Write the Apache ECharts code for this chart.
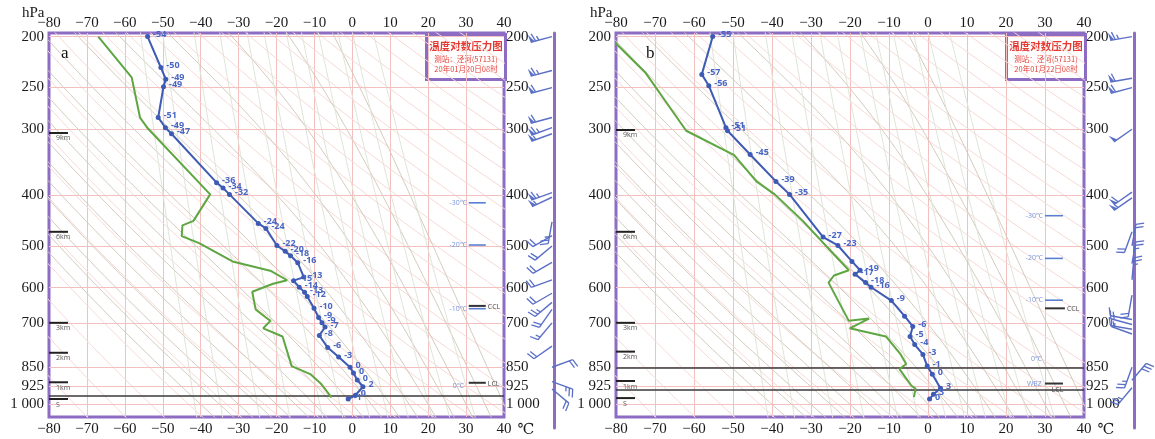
<!DOCTYPE html>
<html><head><meta charset="utf-8">
<script src="https://cdn.jsdelivr.net/npm/echarts@6/dist/echarts.min.js"></script>
<style>html,body{margin:0;padding:0;background:#fff}#c{width:1155px;height:439px}</style>
</head><body><div id="c"></div>
<script>
// ---------- tick labels ----------
const PRESS_TICKS = [200, 250, 300, 400, 500, 600, 700, 850, 925, 1000];

// ---------- panel a : temperature profile ----------
const A_T   = [-54, -50.5, -49.2, -49.8, -51.2, -49.3, -47.7, -35.8, -34.1, -32.4, -24.8, -22.8, -19.9, -17.7, -16.3, -14.4, -12.8, -15.5, -14.0, -12.6, -11.9, -10.1, -8.9, -8.0, -7.2, -8.7, -6.5, -3.6, -0.6, 0.3, 1.3, 2.8, 0.8, -1.1];
const A_TP  = [200, 229, 241, 249, 285, 298, 306, 379, 388, 399, 453, 463, 499, 512, 522, 538, 573, 582, 599, 612, 624, 657, 684, 700, 713, 740, 780, 813, 850, 872, 899, 926, 961, 977];
const A_LBL = ['-54','-50','-49','-49','-51','-49','-47','-36','-34','-32','-24','-24','-22','-20','-18','-16','-13','-15','-14','-13','-12','-10','-9','-9','-7','-8','-6','-3','0','0','0','2','0','-1'];
// panel a : dew point
const A_TD  = [-67, -58.2, -56, -54.1, -37.5, -41.9, -44.8, -45, -40.4, -31.6, -21.4, -17.2, -20.9, -26.4, -25.5, -22.8, -21.6, -23.5, -18.4, -16, -11.1, -8.2, -5.5];
const A_TDP = [200, 239, 285, 298, 399, 448, 457, 479, 494, 535, 558, 581, 590, 611, 660, 684, 694, 717, 743, 846, 876, 915, 970];
// panel a : winds (hPa, direction deg, speed m/s)
const A_WP  = [200, 232, 250, 285, 298, 306, 396, 404, 450, 478, 500, 537, 580, 615, 640, 660, 700, 775, 850, 905, 935];
const A_WD  = [255, 255, 255, 255, 250, 250, 250, 245, 190, 240, 230, 240, 250, 240, 230, 215, 220, 235, 70, 110, 130];
const A_WS  = [26, 26, 24, 24, 26, 22, 26, 22, 10, 8, 8, 8, 8, 8, 10, 8, 6, 8, 8, 10, 8];
// panel a : height marks
const A_HP  = [305, 470, 700, 798, 908, 977];
const A_HT  = ['9km', '6km', '3km', '2km', '1km', 'S'];
// panel a : level marks
const A_LP  = [414, 498, 658, 650, 910, 923];
const A_LT0 = [30.7, 30.7, 30.7, 30.7, 30.7, 29.4];
const A_LT1 = [35.2, 35.2, 35.2, 35.2, 35.2, 29.4];
const A_LTX = ['-30℃', '-20℃', '-10℃', 'CCL', 'LCL', '0℃'];
const A_LK  = ['blue', 'blue', 'blue', 'black', 'black', 'text'];
const A_BLACK = [962];

// ---------- panel b ----------
const B_T   = [-55.2, -58, -56.2, -51.8, -51.4, -45.6, -39, -35.5, -26.9, -23.1, -19.5, -17.4, -18.7, -16, -14.6, -9.4, -6.0, -3.9, -4.6, -3.4, -1.3, -0.2, 1.1, 3.2, 1.4, 0.4];
const B_TP  = [200, 236, 248, 298, 302, 335, 377, 399, 481, 499, 535, 556, 566, 587, 599, 635, 680, 711, 743, 770, 804, 846, 877, 932, 957, 977];
const B_LBL = ['-55','-57','-56','-51','-51','-45','-39','-35','-27','-23','','-19','-17','-18','-16','-9','','-6','-5','-4','-3','-1','0','3','3','0'];
const B_TD  = [-81.8, -72.5, -62, -49.7, -44, -39.3, -32.1, -24.1, -20.3, -24.1, -25.5, -20.3, -15.1, -20.1, -10.8, -7, -5.6, -7.3, -4.3, -3.2, -3.6];
const B_TDP = [200, 234, 302, 336, 377, 399, 448, 519, 556, 569, 587, 694, 687, 717, 743, 804, 838, 857, 921, 933, 969];
const B_WP  = [200, 240, 250, 300, 395, 405, 470, 500, 540, 580, 620, 690, 705, 720, 735, 850, 900, 930];
const B_WD  = [260, 260, 255, 235, 235, 235, 200, 10, 10, 5, 190, 280, 285, 280, 290, 200, 40, 220];
const B_WS  = [26, 24, 24, 20, 24, 22, 8, 8, 10, 10, 8, 6, 6, 6, 6, 10, 12, 10];
const B_HP  = [301, 470, 700, 794, 903, 973];
const B_HT  = ['9km', '6km', '3km', '2km', '1km', 'S'];
const B_LP  = [438, 528, 634, 657, 913, 820, 913];
const B_LT0 = [30, 30, 30, 30, 30, 29.2, 29.2];
const B_LT1 = [34.6, 34.6, 34.6, 35.1, 34.6, 29.2, 29.2];
const B_LTX = ['-30℃', '-20℃', '-10℃', 'CCL', 'LCL', '0℃', 'WBZ'];
const B_LK  = ['blue', 'blue', 'blue', 'black', 'blackBelow', 'text', 'text'];
const B_BLACK = [851, 938];

// ---------- diagram background families ----------
const DRY_THETA = [200,210,220,230,240,250,260,270,280,290,300,310,320,330,340,350,360,370,380,390,400,410,420,430,440,450,460,470,480];
const MOIST_T0  = [-40,-35,-30,-25,-20,-15,-10,-5,0,5,10,15,20,25,30,35,40];
const MIX_W     = [0.1,0.2,0.5,1,2,3,5,7,10,15,20,30];

const SERIF = "'Liberation Serif','DejaVu Serif',serif";
const FRAME = '#8d6cc3';
const BLUE = '#3d5bb5', GREEN = '#5ea641';
const PMIN = 196.9, PMAX = 1057, PMAXW = 1109;

const PS = []; for (let lp = Math.log(1065); lp >= Math.log(194); lp -= 0.02) PS.push(Math.exp(lp));
function es(tc){ return 6.112*Math.exp(17.67*tc/(tc+243.5)); }
function dTdlnp(Tk, p){ const e = es(Tk-273.15); const rs = 0.622*e/Math.max(p-e,1); return (287.04*Tk + 2.501e6*rs)/(1005.7 + 2.501e6*2.501e6*rs*0.622/(287.04*Tk*Tk)); }
function moist(t0){
  const up=[], dn=[];
  let T=t0+273.15, lp=Math.log(1000);
  while (lp > Math.log(194)) { up.push([T-273.15, Math.exp(lp)]); const h=-0.01; const k1=dTdlnp(T,Math.exp(lp)); const k2=dTdlnp(T+h*k1,Math.exp(lp+h)); T+=h*(k1+k2)/2; lp+=h; }
  T=t0+273.15; lp=Math.log(1000);
  while (lp < Math.log(1065)) { const h=0.01; const k1=dTdlnp(T,Math.exp(lp)); const k2=dTdlnp(T+h*k1,Math.exp(lp+h)); T+=h*(k1+k2)/2; lp+=h; dn.push([T-273.15, Math.exp(lp)]); }
  return dn.reverse().concat(up);
}
function mixLine(w){ const r=w/1000; return PS.map(p=>{ const e=r*p/(0.622+r); const l=Math.log(e/6.112); return [243.5*l/(17.67-l), p]; }); }

function plain(xi, yi, data, color, width, type, z){
  return {type:'line', xAxisIndex:xi, yAxisIndex:yi, data, showSymbol:false, silent:true, animation:false,
    lineStyle:{color, width, type:type||'solid'}, z:z||1, clip:true};
}
function background(xi, yi){
  const out=[];
  DRY_THETA.forEach(th=>out.push(plain(xi, yi, PS.map(p=>[th*Math.pow(p/1000,0.2857)-273.15, p]), '#f6d9d5', 1)));
  MOIST_T0.forEach(t=>out.push(plain(xi, yi, moist(t), '#d2c9ba', 1)));
  MIX_W.forEach(w=>out.push(plain(xi, yi, mixLine(w), '#dfe4d8', 1)));
  // isobars
  out.push({type:'line', xAxisIndex:xi, yAxisIndex:yi, data:[], silent:true, z:2,
    markLine:{silent:true, symbol:'none', animation:false, label:{show:false},
      lineStyle:{color:'#f3c0c0', width:1, type:'solid'}, data:PRESS_TICKS.map(p=>({yAxis:p}))}});
  return out;
}
function profile(xi, yi, T, P, L, color){
  return {type:'line', xAxisIndex:xi, yAxisIndex:yi, data:T.map((t,i)=>[t,P[i]]), z:10, animation:false,
    symbol:'circle', symbolSize:5, showAllSymbol:true, itemStyle:{color}, lineStyle:{color, width:2},
    label:{show:true, position:'right', distance:3, offset:[0,-2], color:'#4a66c4', fontSize:9, fontWeight:'bold',
      fontFamily:"'Open Sans',sans-serif", formatter:p=>L[p.dataIndex]}};
}
function dew(xi, yi, T, P){
  return {type:'line', xAxisIndex:xi, yAxisIndex:yi, data:T.map((t,i)=>[t,P[i]]), z:9, animation:false,
    showSymbol:false, lineStyle:{color:GREEN, width:2}};
}
function blackLines(xi, yi, arr){
  return {type:'line', xAxisIndex:xi, yAxisIndex:yi, data:[], z:8,
    markLine:{silent:true, symbol:'none', animation:false, label:{show:false},
      lineStyle:{color:'#3a3a3a', width:1.6, type:'solid'}, data:arr.map(p=>({yAxis:p}))}};
}
function heights(xi, yi, P, TX){
  return {type:'custom', xAxisIndex:xi, yAxisIndex:yi, z:12, silent:true, animation:false,
    data:P.map(p=>[-80,p]),
    renderItem:(params, api)=>{
      const c = api.coord([api.value(0), api.value(1)]);
      return {type:'group', children:[
        {type:'line', shape:{x1:c[0], y1:c[1], x2:c[0]+19, y2:c[1]}, style:{stroke:'#222', lineWidth:2}},
        {type:'text', x:c[0]+7, y:c[1]+2, style:{text:TX[params.dataIndex], fontSize:7, fill:'#555', fontFamily:"'Open Sans',sans-serif"}}
      ]};
    }};
}
function levels(xi, yi, P, T0, T1, TX, K){
  return {type:'custom', xAxisIndex:xi, yAxisIndex:yi, z:12, silent:true, animation:false,
    data:P.map((p,i)=>[T0[i], p, T1[i]]),
    renderItem:(params, api)=>{
      const i = params.dataIndex, k = K[i];
      const a = api.coord([api.value(0), api.value(1)]), b = api.coord([api.value(2), api.value(1)]);
      const ch = [];
      const fam = "'Open Sans',sans-serif";
      if (k==='blue'){
        ch.push({type:'line', shape:{x1:a[0],y1:a[1],x2:b[0],y2:b[1]}, style:{stroke:'#5b7fd0', lineWidth:1.6}});
        ch.push({type:'text', x:a[0]-2, y:a[1], style:{text:TX[i], fontSize:7, fill:'#7a95d8', align:'right', verticalAlign:'middle', fontFamily:fam}});
      } else if (k==='black'){
        ch.push({type:'line', shape:{x1:a[0],y1:a[1],x2:b[0],y2:b[1]}, style:{stroke:'#333', lineWidth:2}});
        ch.push({type:'text', x:b[0]+2, y:a[1]+1, style:{text:TX[i], fontSize:7, fill:'#444', align:'left', verticalAlign:'middle', fontFamily:fam}});
      } else if (k==='blackBelow'){
        ch.push({type:'line', shape:{x1:a[0],y1:a[1],x2:b[0],y2:b[1]}, style:{stroke:'#333', lineWidth:2}});
        ch.push({type:'text', x:a[0]+(b[0]-a[0])*0.7, y:a[1]+6, style:{text:TX[i], fontSize:7, fill:'#444', align:'center', verticalAlign:'middle', fontFamily:fam}});
      } else {
        ch.push({type:'text', x:a[0], y:a[1], style:{text:TX[i], fontSize:7, fill:'#7a95d8', align:'right', verticalAlign:'middle', fontFamily:fam}});
      }
      return {type:'group', children:ch};
    }};
}
function winds(xi, yi, P, D, S){
  return {type:'custom', xAxisIndex:xi, yAxisIndex:yi, z:12, silent:true, animation:false, clip:false,
    data:P.map((p,i)=>[0.96, p, D[i], S[i]]),
    renderItem:(params, api)=>{
      const base = api.coord([api.value(0), api.value(1)]);
      const d = api.value(2)*Math.PI/180; let rem = api.value(3);
      const ux = Math.sin(d), uy = -Math.cos(d), vx = -uy, vy = ux;
      const L = 22, col = '#5a6fc6';
      const tip = [base[0]+L*ux, base[1]+L*uy];
      const ch = [{type:'line', shape:{x1:base[0],y1:base[1],x2:tip[0],y2:tip[1]}, style:{stroke:col, lineWidth:1.4}}];
      let pos = 0;
      while (rem >= 20){
        const p0=[tip[0]-pos*ux, tip[1]-pos*uy], p1=[p0[0]-4*ux, p0[1]-4*uy], ap=[p0[0]+8*vx+1*ux, p0[1]+8*vy+1*uy];
        ch.push({type:'polygon', shape:{points:[p0,ap,p1]}, style:{fill:col}});
        pos += 5; rem -= 20;
      }
      while (rem >= 4){
        const p0=[tip[0]-pos*ux, tip[1]-pos*uy];
        ch.push({type:'line', shape:{x1:p0[0],y1:p0[1],x2:p0[0]+8*vx+2.5*ux,y2:p0[1]+8*vy+2.5*uy}, style:{stroke:col, lineWidth:1.3}});
        pos += 3.5; rem -= 4;
      }
      if (rem >= 2){
        const p0=[tip[0]-pos*ux, tip[1]-pos*uy];
        ch.push({type:'line', shape:{x1:p0[0],y1:p0[1],x2:p0[0]+4.5*vx+1.4*ux,y2:p0[1]+4.5*vy+1.4*uy}, style:{stroke:col, lineWidth:1.3}});
      }
      return {type:'group', children:ch};
    }};
}

const fmtT = v => v < 0 ? '\u2212' + (-v) : String(v);
const fmtP = v => { const r = Math.round(v); return r === 1000 ? '1 000' : String(r); };
function xAx(g, pos){
  const o = {type:'value', gridIndex:g, position:pos, min:-80, max:40, interval:10,
    axisLine:{show:false}, axisTick:{show:false},
    splitLine:{show:pos==='bottom', showMinLine:false, showMaxLine:false, lineStyle:{color:'#f3c0c0', width:1}},
    axisLabel:{margin:pos==='top'?2:5, fontFamily:SERIF, fontSize:15, color:'#1a1a1a', formatter:fmtT}};
  if (pos==='bottom'){ o.name='℃'; o.nameLocation='end'; o.nameGap=10;
    o.nameTextStyle={fontFamily:SERIF, fontSize:15, color:'#1a1a1a', align:'left', verticalAlign:'top', padding:[6,0,0,0]}; }
  return o;
}
function xHidden(g){ return {type:'value', gridIndex:g, min:0, max:1, show:false}; }
function yAx(g, pos){
  return {type:'log', gridIndex:g, position:pos, inverse:true, min:PMIN, max:PMAX, logBase:10,
    axisLine:{show:false}, axisTick:{show:false}, splitLine:{show:false},
    axisLabel:{customValues:PRESS_TICKS, formatter:fmtP, fontFamily:SERIF, fontSize:15, color:'#1a1a1a', margin:pos==='left'?5:2}};
}
function yWind(g){
  return {type:'log', gridIndex:g, position:'right', inverse:true, min:PMIN, max:PMAXW, logBase:10,
    axisLine:{show:true, onZero:false, lineStyle:{color:FRAME, width:3}}, axisTick:{show:false}, axisLabel:{show:false}, splitLine:{show:false}};
}

const grids = [
  {left:49, top:33, width:455, height:384, show:true, borderColor:FRAME, borderWidth:3, backgroundColor:'#fff'},
  {left:504, top:33, width:50, height:395, show:false},
  {left:616, top:33, width:468, height:384, show:true, borderColor:FRAME, borderWidth:3, backgroundColor:'#fff'},
  {left:1084, top:33, width:50, height:395, show:false}
];

const series = [].concat(
  background(0,0), background(3,3),
  [blackLines(0,0,A_BLACK), blackLines(3,3,B_BLACK),
   dew(0,0,A_TD,A_TDP), dew(3,3,B_TD,B_TDP),
   profile(0,0,A_T,A_TP,A_LBL,BLUE), profile(3,3,B_T,B_TP,B_LBL,BLUE),
   heights(0,0,A_HP,A_HT), heights(3,3,B_HP,B_HT),
   levels(0,0,A_LP,A_LT0,A_LT1,A_LTX,A_LK), levels(3,3,B_LP,B_LT0,B_LT1,B_LTX,B_LK),
   winds(2,2,A_WP,A_WD,A_WS), winds(5,5,B_WP,B_WD,B_WS)]
);

function box(x, date){
  return {type:'group', left:x, top:33, z:100, children:[
    {type:'rect', shape:{x:0, y:0, width:79, height:45}, style:{fill:'#fff', stroke:FRAME, lineWidth:3}},
    {type:'text', x:39.5, y:6, style:{text:'温度对数压力图', fontSize:10.5, fontWeight:'bold', fill:'#e53a33', align:'center', fontFamily:"'Noto Sans CJK SC',sans-serif"}},
    {type:'text', x:39.5, y:21, style:{text:'测站：泾河(57131)', fontSize:7.5, fill:'#e53a33', align:'center', fontFamily:"'Noto Sans CJK SC',sans-serif"}},
    {type:'text', x:39.5, y:31, style:{text:date, fontSize:7.5, fill:'#e53a33', align:'center', fontFamily:"'Noto Sans CJK SC',sans-serif"}}
  ]};
}
const axisText = {fontSize:15, fontFamily:SERIF, fill:'#1a1a1a'};

const chart = echarts.init(document.getElementById('c'), null, {renderer:'canvas'});
chart.setOption({
  animation:false,
  backgroundColor:'#fff',
  grid:grids,
  xAxis:[xAx(0,'bottom'), xAx(0,'top'), xHidden(1), xAx(2,'bottom'), xAx(2,'top'), xHidden(3)],
  yAxis:[yAx(0,'left'), yAx(0,'right'), yWind(1), yAx(2,'left'), yAx(2,'right'), yWind(3)],
  series,
  graphic:[
    box(425, '20年01月20日08时'),
    box(1005, '20年01月22日08时'),
    {type:'text', left:22, top:6, z:100, style:Object.assign({text:'hPa'}, axisText)},
    {type:'text', left:590, top:6, z:100, style:Object.assign({text:'hPa'}, axisText)},
    {type:'text', left:61, top:45, z:100, style:{text:'a', fontSize:17, fontFamily:SERIF, fill:'#111'}},
    {type:'text', left:646, top:45, z:100, style:{text:'b', fontSize:17, fontFamily:SERIF, fill:'#111'}}
  ]
});
</script></body></html>
